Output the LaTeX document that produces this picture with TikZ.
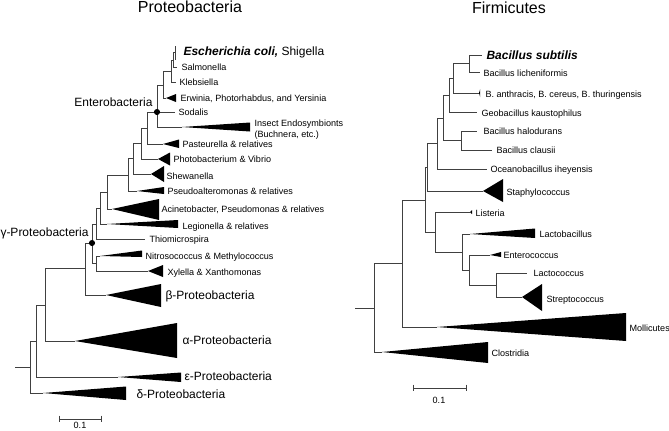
\documentclass[tikz,border=0pt]{standalone}
\usepackage{fontspec}
\setmainfont{Liberation Sans}

\tikzset{every picture/.style={line width=0.75pt}}
\tikzset{
  branch/.style={draw=black!75, line width=0.5pt},
  clade/.style={fill=black},
  tip/.style={font=\fontsize{6.8}{8.2}\selectfont, inner sep=0.75pt, anchor=west, text height=0.72em, text depth=0.2em},
  group/.style={font=\fontsize{9}{11}\selectfont, inner sep=0.75pt, text height=0.72em, text depth=0.2em},
  big/.style={font=\fontsize{9}{11}\selectfont},
  title/.style={font=\fontsize{12}{14}\selectfont, inner sep=0pt, anchor=base},
  bar/.style={draw=black!75, line width=0.6pt}
}
% collapsed clade: apex, length, up, down
\newcommand{\clade}[4]{\fill[clade] (#1) -- ++(#2,-#3) -- ++(0,#3+#4) -- cycle;}

\begin{document}
\begin{tikzpicture}[x=0.75pt,y=0.75pt,yscale=-1,xscale=1]
\useasboundingbox (0,0) rectangle (669,430);

% Titles
\node[title] (tP) at (190,12) {Proteobacteria};
\node[title] (tF) at (509,13) {Firmicutes};

%% Proteobacteria tree
\coordinate (ecT) at (176,46);
\coordinate (shT) at (176,59);
\coordinate (n1) at (175,52);
\coordinate (saT) at (177,67);
\coordinate (n2) at (173,60);
\coordinate (klT) at (176,82);
\coordinate (n3) at (171,71);
\coordinate (erA) at (166,98);
\coordinate (n4) at (163,85);
\coordinate (soT) at (175,112);
\coordinate (inA) at (182,127);
\coordinate (ent) at (157,112);
\coordinate (paA) at (163,144);
\coordinate (nP) at (147,128);
\coordinate (phA) at (158,159);
\coordinate (nV) at (141,143);
\coordinate (shA) at (151,174);
\coordinate (nS) at (133,158);
\coordinate (psA) at (137,191);
\coordinate (nPa) at (128,175);
\coordinate (acA) at (112,209);
\coordinate (nAc) at (107,192);
\coordinate (lgA) at (107,224);
\coordinate (nLg) at (100,208);
\coordinate (thT) at (145,239);
\coordinate (nT) at (96,224);
\coordinate (niA) at (100,256);
\coordinate (xyA) at (148,271);
\coordinate (nNX) at (96,263);
\coordinate (nG) at (92,243);
\coordinate (beA) at (106,295);
\coordinate (nB) at (85,268);
\coordinate (alA) at (75,341);
\coordinate (nA) at (45,305);
\coordinate (epA) at (118,377);
\coordinate (nE) at (36,341);
\coordinate (deA) at (43,393);
\coordinate (nR) at (30,367);
\coordinate (rootL) at (15,367);

\foreach \a/\b in {n1/ecT,n1/shT,n2/n1,n2/saT,n3/n2,n3/klT,n4/n3,n4/erA,
  ent/n4,ent/soT,ent/inA,nP/ent,nP/paA,nV/nP,nV/phA,nS/nV,nS/shA,nPa/nS,nPa/psA,
  nAc/nPa,nAc/acA,nLg/nAc,nLg/lgA,nT/nLg,nT/thT,nNX/niA,nNX/xyA,nG/nT,nG/nNX,
  nB/nG,nB/beA,nA/nB,nA/alA,nE/nA,nE/epA,nR/nE,nR/deA}
  \draw[branch] (\a) |- (\b);
\draw[branch] (rootL) -- (nR);

\clade{erA}{10}{4}{4}
\clade{inA}{68}{4.5}{4.5}
\clade{paA}{16}{4.5}{4}
\clade{phA}{12}{6.5}{6.5}
\clade{shA}{13}{8}{8}
\clade{psA}{27}{4}{3}
\clade{acA}{47}{10}{11}
\clade{lgA}{71}{4}{4}
\clade{niA}{42}{5.5}{1}
\clade{xyA}{15}{6}{6}
\clade{beA}{55}{11}{12}
\clade{alA}{102}{18}{17}
\clade{epA}{63}{4.5}{5}
\clade{deA}{83}{6.5}{7}

\fill (ent) circle[radius=2.3pt];
\fill (nG) circle[radius=2.3pt];

% Text Node
\node[tip, big] (ecL) at (182,52) {\textbf{\textit{Escherichia coli,}} Shigella};
\node[tip] (saL) at (180,67) {Salmonella};
\node[tip] (klL) at (178,82) {Klebsiella};
\node[tip] (erL) at (179,98) {Erwinia, Photorhabdus, and Yersinia};
\node[tip] (soL) at (177,112) {Sodalis};
\node[tip, align=left, text height=, text depth=] (inL) at (253,130) {Insect Endosymbionts\\(Buchnera, etc.)};
\node[tip] (paL) at (181,144) {Pasteurella \& relatives};
\node[tip] (phL) at (172,159) {Photobacterium \& Vibrio};
\node[tip] (shL) at (165,176) {Shewanella};
\node[tip] (psL) at (166,191) {Pseudoalteromonas \& relatives};
\node[tip] (acL) at (160,209) {Acinetobacter, Pseudomonas \& relatives};
\node[tip] (lgL) at (181,226) {Legionella \& relatives};
\node[tip] (thL) at (148,239) {Thiomicrospira};
\node[tip] (niL) at (144,256) {Nitrosococcus \& Methylococcus};
\node[tip] (xyL) at (166,272) {Xylella \& Xanthomonas};
\node[group, anchor=west] (beL) at (164,296) {β-Proteobacteria};
\node[group, anchor=west] (alL) at (181,341) {α-Proteobacteria};
\node[group, anchor=west] (epL) at (183,377) {ε-Proteobacteria};
\node[group, anchor=west] (deL) at (135,395) {δ-Proteobacteria};
\node[group, anchor=west, inner sep=0pt] (gaL) at (0,233) {γ-Proteobacteria};
\node[group, anchor=east] (enL) at (154,103) {Enterobacteria};

% scale bar
\coordinate (sbA) at (59,419);
\coordinate (sbB) at (101,419);
\draw[bar] (sbA) -- (sbB);
\draw[bar] ([yshift=-2.5]sbA) -- ([yshift=2.5]sbA);
\draw[bar] ([yshift=-2.5]sbB) -- ([yshift=2.5]sbB);
\node[tip, anchor=center, inner sep=0pt, text height=, text depth=] (sbL) at (80,425.5) {0.1};

%% Firmicutes tree
\coordinate (bsT) at (482,55);
\coordinate (blT) at (480,72);
\coordinate (f1) at (469,63.5);
\coordinate (baA) at (479,93);
\coordinate (f2) at (453,78);
\coordinate (gkT) at (477,112);
\coordinate (f3) at (449,95);
\coordinate (bhT) at (477,131);
\coordinate (bcT) at (492,150);
\coordinate (f4) at (461,140);
\coordinate (f5) at (443,118);
\coordinate (obT) at (487,169);
\coordinate (f6) at (437,143);
\coordinate (stA) at (483,191);
\coordinate (f7) at (427,167);
\coordinate (liA) at (470,212);
\coordinate (lbA) at (470,234);
\coordinate (enA) at (490,255);
\coordinate (lcT) at (527,273);
\coordinate (spA) at (522,297);
\coordinate (f8) at (496,285);
\coordinate (f9) at (469,270);
\coordinate (f10) at (462,252);
\coordinate (f11) at (435,232);
\coordinate (f12) at (425,200);
\coordinate (moA) at (437,327);
\coordinate (f13) at (402,263);
\coordinate (clA) at (382,352);
\coordinate (f14) at (374,308);
\coordinate (rootR) at (355,308);

\foreach \a/\b in {f1/bsT,f1/blT,f2/f1,f2/baA,f3/f2,f3/gkT,f4/bhT,f4/bcT,
  f5/f3,f5/f4,f6/f5,f6/obT,f7/f6,f7/stA,f8/lcT,f8/spA,f9/enA,f9/f8,
  f10/lbA,f10/f9,f11/liA,f11/f10,f12/f7,f12/f11,f13/f12,f13/moA,f14/f13,f14/clA}
  \draw[branch] (\a) |- (\b);
\draw[branch] (rootR) -- (f14);

\clade{baA}{1.2}{4}{4}
\clade{stA}{20}{12}{11}
\clade{liA}{2}{2}{2}
\clade{lbA}{65}{5.5}{4}
\clade{enA}{11}{3}{2}
\clade{spA}{20}{13}{14}
\clade{moA}{189}{14}{14}
\clade{clA}{106}{10}{11}

% Text Node
\node[tip, big] (bsL) at (485,56) {\textbf{\textit{Bacillus subtilis}}};
\node[tip] (blL) at (482,73) {Bacillus licheniformis};
\node[tip] (baL) at (484,94) {B. anthracis, B. cereus, B. thuringensis};
\node[tip] (gkL) at (480,113) {Geobacillus kaustophilus};
\node[tip] (bhL) at (482,131) {Bacillus halodurans};
\node[tip] (bcL) at (495,150) {Bacillus clausii};
\node[tip] (obL) at (489,169) {Oceanobacillus iheyensis};
\node[tip] (stL) at (505,192) {Staphylococcus};
\node[tip] (liL) at (474,213) {Listeria};
\node[tip] (lbL) at (538,234) {Lactobacillus};
\node[tip] (ecoL) at (502,255) {Enterococcus};
\node[tip] (lcL) at (532,273) {Lactococcus};
\node[tip] (spL) at (545,299) {Streptococcus};
\node[tip] (moL) at (628,328) {Mollicutes};
\node[tip] (clL) at (490,353) {Clostridia};

% scale bar
\coordinate (sbC) at (413,388);
\coordinate (sbD) at (466,388);
\draw[bar] (sbC) -- (sbD);
\draw[bar] ([yshift=-2.5]sbC) -- ([yshift=2.5]sbC);
\draw[bar] ([yshift=-2.5]sbD) -- ([yshift=2.5]sbD);
\node[tip, anchor=north] (sbR) at (439,392) {0.1};

\end{tikzpicture}
\end{document}
